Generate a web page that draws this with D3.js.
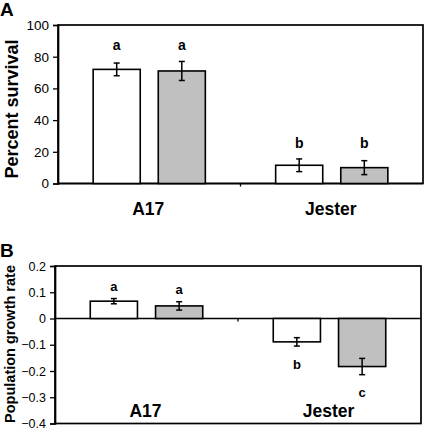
<!DOCTYPE html>
<html><head><meta charset="utf-8">
<script src="https://cdn.jsdelivr.net/npm/d3@7"></script>
<style>body{margin:0;background:#fff}svg{display:block}text{font-family:"Liberation Sans",Arial,sans-serif}</style>
</head><body>
<svg id="c" width="425" height="431"></svg>
<script>
const categories = ["A17", "Jester"];
const treatments = ["white", "gray"];
const fills = {white: "#ffffff", gray: "#c0c0c0"};

// Panel A: percent survival
const survivalMean = [[72, 71], [11.5, 10]];
const survivalErr  = [[4, 6], [4, 4.4]];
const survivalLetters = [["a", "a"], ["b", "b"]];
const survivalTicks = [0, 20, 40, 60, 80, 100];

// Panel B: population growth rate
const growthMean = [[0.066, 0.048], [-0.089, -0.183]];
const growthErr  = [[0.01, 0.016], [0.016, 0.031]];
const growthLetters = [["a", "a"], ["b", "c"]];
const growthTicks = [0.2, 0.1, 0, -0.1, -0.2, -0.3, -0.4];

const svg = d3.select("#c");

function panel(opt) {
  const g = svg.append("g");
  const x = d3.scaleBand().domain(categories).range([opt.x0, opt.x1]);
  const xi = d3.scaleBand().domain(treatments).range([0, x.bandwidth()]).paddingInner(0.277).paddingOuter(0.54);
  const y = d3.scaleLinear().domain(opt.domain).range([opt.yb, opt.yt]);

  g.append("rect").attr("x", opt.x0).attr("y", opt.yt).attr("width", opt.x1 - opt.x0).attr("height", opt.yb - opt.yt)
    .attr("fill", "none").attr("stroke", "#000").attr("stroke-width", 1.7);

  const ya = g.append("g").attr("transform", `translate(${opt.x0},0)`)
    .call(d3.axisLeft(y).tickValues(opt.ticks).tickSize(5).tickPadding(4).tickFormat(opt.fmt));
  ya.select(".domain").attr("stroke-width", 1.7);
  ya.selectAll(".tick line").attr("stroke-width", 1.3);
  ya.selectAll("text").attr("font-size", opt.tickSize).attr("fill", "#000");

  const y0 = y(0);
  g.append("line").attr("x1", opt.x0).attr("x2", opt.x1).attr("y1", y0).attr("y2", y0).attr("stroke", "#000").attr("stroke-width", 1.7);
  g.append("line").attr("x1", x("Jester")).attr("x2", x("Jester")).attr("y1", y0).attr("y2", y0 + 3).attr("stroke", "#000").attr("stroke-width", 1.3);

  categories.forEach((c, ci) => {
    treatments.forEach((t, ti) => {
      const v = opt.mean[ci][ti], e = opt.err[ci][ti];
      const bx = x(c) + xi(t), bw = xi.bandwidth();
      g.append("rect").attr("x", bx).attr("y", Math.min(y(v), y0)).attr("width", bw)
        .attr("height", Math.abs(y(v) - y0)).attr("fill", fills[t]).attr("stroke", "#000").attr("stroke-width", 1.6);
      const cx = bx + bw / 2;
      g.append("line").attr("x1", cx).attr("x2", cx).attr("y1", y(v + e)).attr("y2", y(v - e)).attr("stroke", "#000").attr("stroke-width", 1.5);
      [v + e, v - e].forEach(w => g.append("line").attr("x1", cx - 3).attr("x2", cx + 3).attr("y1", y(w)).attr("y2", y(w)).attr("stroke", "#000").attr("stroke-width", 1.5));
      let ly;
      if (opt.groupLetters) {
        const top = d3.max(opt.mean[ci].map((m, k) => m + opt.err[ci][k]));
        ly = y(top) - 16;
      } else {
        ly = v >= 0 ? y(v + e) - 12 : y(v - e) + 18;
      }
      g.append("text").attr("x", cx).attr("y", ly).attr("dy", "0.35em").attr("text-anchor", "middle")
        .attr("font-weight", "bold").attr("font-size", opt.letterSize).text(opt.letters[ci][ti]);
    });
    g.append("text").attr("x", x(c) + x.bandwidth() / 2 - 1).attr("y", opt.catY).attr("dy", "0.35em").attr("text-anchor", "middle")
      .attr("font-weight", "bold").attr("font-size", 17.5).text(c);
  });

  g.append("text").attr("transform", `translate(${opt.labX},${opt.labY}) rotate(-90)`).attr("text-anchor", "middle")
    .attr("dy", "0.35em").attr("font-weight", "bold").attr("font-size", opt.labSize).text(opt.label);
  g.append("text").attr("x", 0).attr("y", opt.tagY).attr("font-weight", "bold").attr("font-size", 19).text(opt.tag);
}

panel({x0: 58, x1: 423, yt: 25, yb: 183.5, domain: [0, 100], ticks: survivalTicks, fmt: d3.format("d"),
  mean: survivalMean, err: survivalErr, letters: survivalLetters, groupLetters: true, letterSize: 14,
  catY: 209, label: "Percent survival", labX: 12, labY: 109, labSize: 18, tag: "A", tagY: 16, tickSize: 13.5});

panel({x0: 55, x1: 421, yt: 266, yb: 423.5, domain: [-0.4, 0.2], ticks: growthTicks, fmt: d => d === 0 ? "0" : d3.format(".1f")(d),
  mean: growthMean, err: growthErr, letters: growthLetters, groupLetters: false, letterSize: 13,
  catY: 410.5, label: "Population growth rate", labX: 10, labY: 344, labSize: 14.5, tag: "B", tagY: 257, tickSize: 12.5});
</script>
</body></html>
